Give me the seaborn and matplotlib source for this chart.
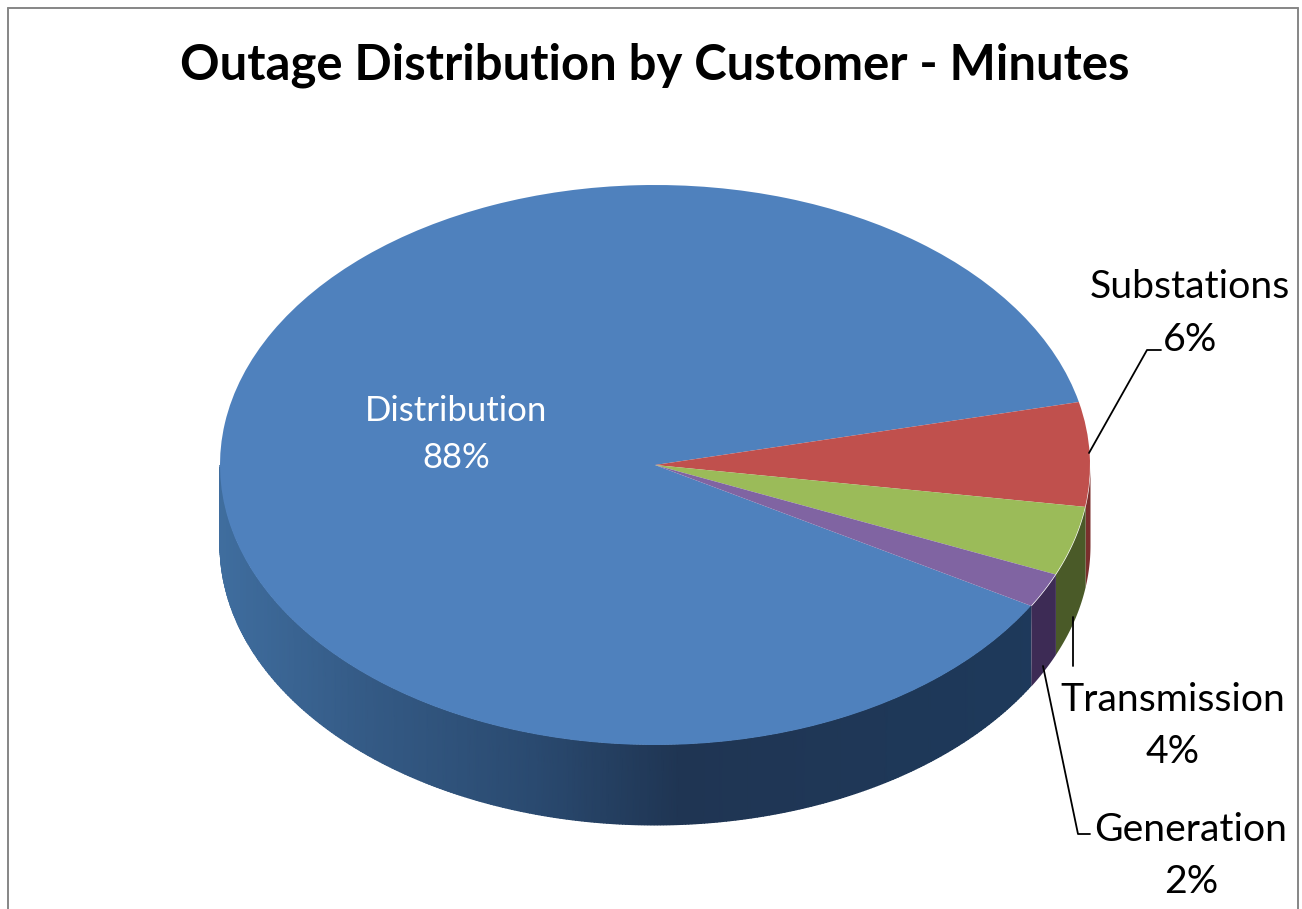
import numpy as np
import matplotlib
matplotlib.use("Agg")
import matplotlib.pyplot as plt
from matplotlib.lines import Line2D
from matplotlib.transforms import Affine2D
from matplotlib.colors import LinearSegmentedColormap
import seaborn as sns

categories = ["Distribution", "Substations", "Transmission", "Generation"]
values = [88, 6, 4, 2]
title = "Outage Distribution by Customer - Minutes"

top_colors = ["#4f81bd", "#c0504d", "#9bbb59", "#8064a2"]
side_colors = ["#1e3a5c", "#7a2f2d", "#4a5a28", "#3d2b55"]

sns.set_theme(style="white")
plt.rcParams["font.family"] = ["Lato", "DejaVu Sans"]

W, H = 1302, 909
CX, CY, RX, RY, DEPTH = 655, 465, 435, 280, 80
START = -30.2

fig = plt.figure(figsize=(W / 100, H / 100), dpi=100, facecolor="white")
ax = fig.add_axes([0, 0, 1, 1])
px = Affine2D().scale(1, -1).translate(0, H)

palette = sns.color_palette(top_colors)
ax.pie(values, colors=palette, startangle=START, counterclock=False,
       radius=1, center=(0, 0), wedgeprops=dict(linewidth=0, zorder=3))
ax.set_aspect("auto")

# side wall of the disc
d = DEPTH / RY
edges = START - np.cumsum([0] + values) * 3.6   # clockwise boundaries
side_cmap = LinearSegmentedColormap.from_list(
    "side", [(0.0, "#3f6d9e"), (0.17, "#345a85"), (0.36, "#2a4a70"),
             (0.53, "#1f3553"), (1.0, "#1e3a5c")])

for i in range(len(values)):
    a0, a1 = edges[i + 1], edges[i]
    for shift in (0, 360):
        lo, hi = max(a0 + shift, -180), min(a1 + shift, 0)
        if hi <= lo:
            continue
        th = np.radians(np.linspace(lo, hi, 361))
        x = np.cos(th)
        y = np.sin(th)
        if i == 0:
            ax.pcolormesh(np.vstack([x, x]), np.vstack([y - d, y]),
                          np.vstack([x, x]), shading="gouraud",
                          cmap=side_cmap, vmin=-1, vmax=1, zorder=2)
        else:
            ax.fill_between(x, y - d, y, color=side_colors[i], linewidth=0, zorder=2)

ax.set_xlim(-CX / RX, (W - CX) / RX)
ax.set_ylim(-(H - CY) / RY, CY / RY)
ax.set_axis_off()

# chart frame (open at the bottom, as cropped)
for xs, ys in [((8, 8), (H, 8)), ((8, 1298), (8, 8)), ((1298, 1298), (8, H))]:
    fig.add_artist(Line2D(xs, ys, transform=px, color="#868686", lw=1.4))

# leader lines
for xs, ys in [((1089, 1147, 1161), (453, 350, 350)),
               ((1073, 1073), (617, 666)),
               ((1043, 1078, 1090), (666, 834, 834))]:
    fig.add_artist(Line2D(xs, ys, transform=px, color="black", lw=1.3, zorder=5))

fig.text(655, 65, title, transform=px, fontsize=35.3, fontweight="bold",
         ha="center", va="center", color="black")

label_pos = {"Distribution": (456, 411, 458, "white", 25),
             "Substations": (1190, 287, 340, "black", 28.3),
             "Transmission": (1173, 700, 752, "black", 28.2),
             "Generation": (1191, 830, 882, "black", 28.2)}
for name, v in zip(categories, values):
    x, y1, y2, col, fs = label_pos[name]
    fig.text(x, y1, name, transform=px, fontsize=fs, ha="center", va="center", color=col, zorder=6)
    fig.text(x, y2, f"{v}%", transform=px, fontsize=fs, ha="center", va="center", color=col, zorder=6)

fig.savefig("out.png", dpi=100, facecolor="white")
